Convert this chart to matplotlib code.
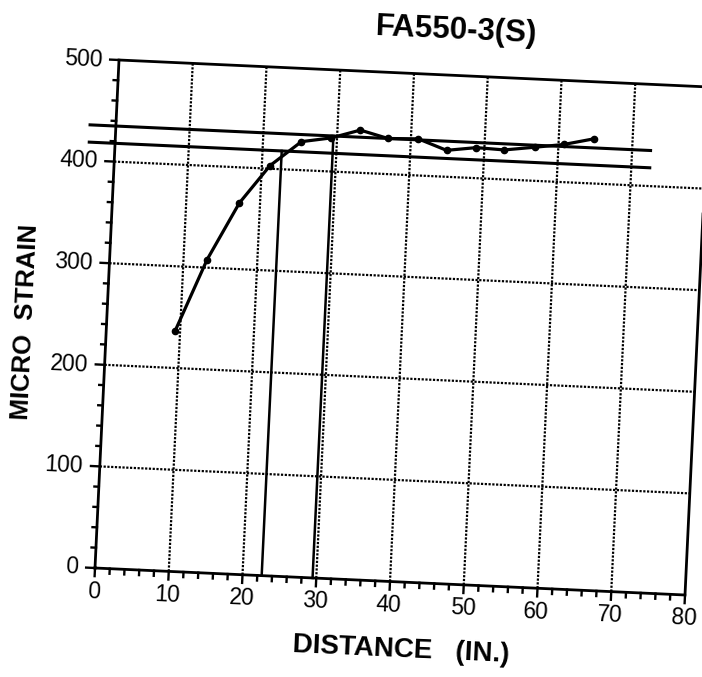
import numpy as np
import matplotlib
matplotlib.use("Agg")
import matplotlib.pyplot as plt
from matplotlib.transforms import Affine2D

# ------------------------------------------------------------------
# Digitised readings (scan of a strain gauge plot, FA550-3(S))
# ------------------------------------------------------------------
distance = [9.3, 13.2, 17.2, 21.1, 25.2, 29.2, 33.1, 36.9, 41.0, 44.9,
            48.9, 52.7, 56.8, 60.7, 64.8]
strain = [236, 308, 365, 403, 428, 433, 442, 435, 436, 426,
          430, 429, 433, 437, 444]

# hand-drawn level lines and the two drop lines
level_upper = 435
level_lower = 418
level_x = [-3.5, 72.5]
drop_x = [22.6, 29.5]
drop_top = [level_lower, level_upper]

x_ticks = [0, 10, 20, 30, 40, 50, 60, 70, 80]
y_ticks = [0, 100, 200, 300, 400, 500]
x_minor = np.arange(0, 81, 2)
y_minor = np.arange(0, 501, 20)

XMAX, YMAX = x_ticks[-1], y_ticks[-1]

# the scanned page is slightly crooked: pixel positions of three plot corners
ORIGIN_PX = np.array([95.0, 568.0])
XEND_PX = np.array([685.0, 595.0])
YEND_PX = np.array([119.0, 60.0])

plt.rcParams["font.family"] = ["Liberation Sans", "DejaVu Sans"]

fig = plt.figure(figsize=(7.02, 6.77), dpi=100, facecolor="white")
ax = fig.add_axes([0, 0, 1, 1])
ax.set_xlim(0, 702)
ax.set_ylim(677, 0)
ax.axis("off")

ex = (XEND_PX - ORIGIN_PX) / XMAX
ey = (YEND_PX - ORIGIN_PX) / YMAX
M = np.array([[ex[0], ey[0], ORIGIN_PX[0]],
              [ex[1], ey[1], ORIGIN_PX[1]],
              [0, 0, 1]])
T = Affine2D(M) + ax.transData
tilt = -np.degrees(np.arctan2(ex[1], ex[0]))
kw = dict(transform=T, clip_on=False)

# dotted grid
grid_style = dict(color="black", lw=1.6, ls=(0, (1.0, 0.7)))
for xv in x_ticks[1:-1]:
    ax.plot([xv, xv], [0, YMAX], **grid_style, **kw)
for yv in y_ticks[1:-1]:
    ax.plot([0, XMAX], [yv, yv], **grid_style, **kw)

# frame
ax.plot([0, XMAX, XMAX, 0, 0], [0, 0, YMAX, YMAX, 0], color="black", lw=2.0,
        solid_joinstyle="miter", **kw)

# ticks (outward)
for xv in x_minor:
    ln = 8 if xv in x_ticks else 5
    ax.plot([xv, xv], [0, -ln], color="black", lw=1.7, **kw)
for yv in y_minor:
    ln = 1.2 if yv in y_ticks else 0.6
    ax.plot([0, -ln], [yv, yv], color="black", lw=1.7, **kw)

# tick labels
for xv in x_ticks:
    ax.text(xv, -23, f"{xv}", ha="center", va="center", fontsize=16.5,
            rotation=tilt, transform=T)
for yv in y_ticks:
    ax.text(-2.2, yv, f"{yv}", ha="right", va="center", fontsize=16.5,
            rotation=tilt, transform=T)

# level lines and drop lines
for lvl in (level_upper, level_lower):
    ax.plot(level_x, [lvl, lvl], color="black", lw=2.2, **kw)
for dx, top in zip(drop_x, drop_top):
    ax.plot([dx, dx], [0, top], color="black", lw=1.8, **kw)

# measured curve
ax.plot(distance, strain, color="black", lw=2.3, marker="o", markersize=4.5,
        solid_joinstyle="round", **kw)

# titles
ax.text(456, 31, "FA550-3(S)", ha="center", va="center", fontsize=22.5,
        fontweight="bold", rotation=tilt)
ax.text(401, 650, "DISTANCE   (IN.)", ha="center", va="center", fontsize=20,
        fontweight="bold", rotation=tilt)
ax.text(25, 322, "MICRO  STRAIN", ha="center", va="center", fontsize=18.5,
        fontweight="bold", rotation=90 + tilt)

fig.savefig("out.png", dpi=100, facecolor="white")
